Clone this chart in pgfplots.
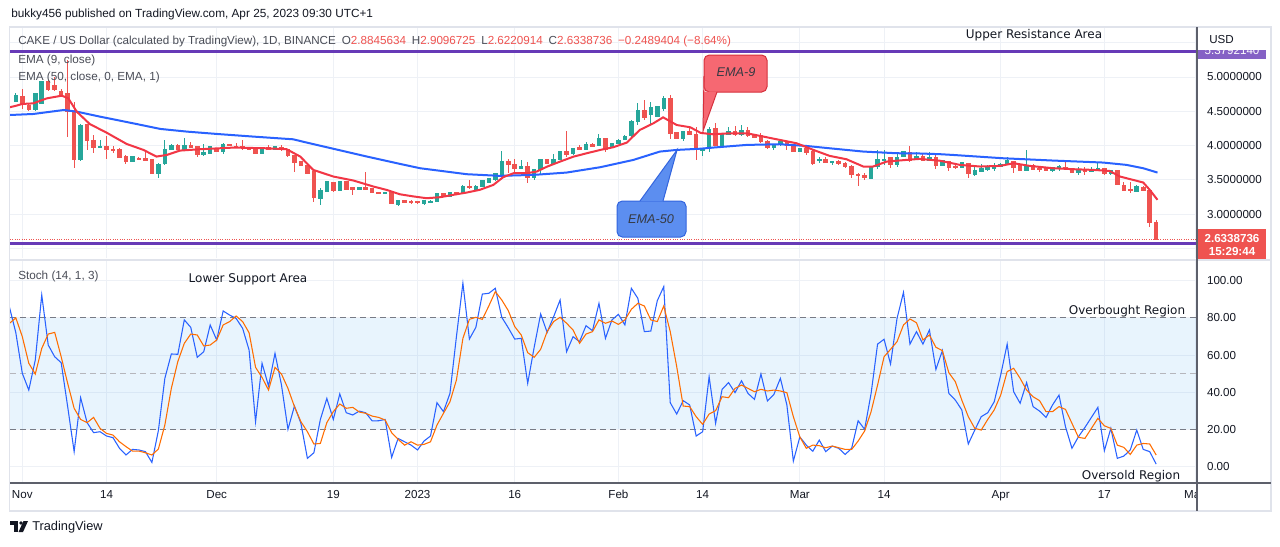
\documentclass[border=0pt]{standalone}
\usepackage{fontspec}
\setmainfont{Liberation Sans}
\newfontfamily\dejavu{DejaVu Sans}
\usepackage{pgfplots}
\usepackage{pgfplotstable}
\pgfplotsset{compat=1.18}

\definecolor{upc}{HTML}{26A69A}
\definecolor{dnc}{HTML}{EF5350}
\definecolor{emared}{HTML}{F23645}
\definecolor{emablue}{HTML}{2962FF}
\definecolor{kline}{HTML}{2962FF}
\definecolor{dline}{HTML}{FF6D00}
\definecolor{gridc}{HTML}{EEF1F6}
\definecolor{framec}{HTML}{E0E3EB}
\definecolor{axc}{HTML}{5D606B}
\definecolor{txt}{HTML}{131722}
\definecolor{lbl}{HTML}{4A4D57}
\definecolor{purp}{HTML}{673AB7}
\definecolor{band}{HTML}{2196F3}
\definecolor{dashc}{HTML}{787B86}
\definecolor{nfill}{RGB}{246,104,114}
\definecolor{nline}{RGB}{214,48,60}
\definecolor{ffill}{RGB}{92,142,240}
\definecolor{fline}{RGB}{50,100,222}

% candles: day index (0 = 1 Nov 2022), open, high, low, close
\pgfplotstableread{
d o h l c
-1 4.640 4.76 4.63 4.738
2 4.519 4.77 4.51 4.762
3 4.616 4.94 4.61 4.932
9 3.791 4.31 3.78 4.301
12 3.966 4.083 3.96 3.995
17 3.767 3.85 3.76 3.840
21 3.597 3.74 3.534 3.733
22 3.733 4.083 3.72 3.947
23 3.937 4.02 3.93 4.010
25 3.937 4.107 3.93 4.010
28 3.864 4.024 3.850 3.898
29 3.888 4.00 3.88 3.986
31 3.913 4.044 3.879 4.024
37 3.888 3.98 3.88 3.976
39 3.947 3.99 3.94 3.986
46 3.219 3.379 3.127 3.355
47 3.330 3.48 3.32 3.476
49 3.345 3.48 3.34 3.476
52 3.364 3.39 3.36 3.389
56 3.296 3.33 3.29 3.316
58 3.132 3.21 3.12 3.209
62 3.151 3.20 3.127 3.199
63 3.170 3.20 3.165 3.195
64 3.185 3.31 3.18 3.306
66 3.257 3.32 3.25 3.316
68 3.306 3.42 3.30 3.413
70 3.364 3.42 3.36 3.413
71 3.403 3.50 3.40 3.490
72 3.461 3.53 3.45 3.524
73 3.500 3.60 3.49 3.597
74 3.573 3.927 3.56 3.767
77 3.670 3.791 3.66 3.694
79 3.539 3.66 3.500 3.656
80 3.646 3.81 3.573 3.801
82 3.743 3.879 3.74 3.801
83 3.801 3.92 3.79 3.913
85 3.879 3.97 3.87 3.961
87 3.937 4.059 3.93 4.024
89 3.995 4.170 3.99 4.107
91 3.976 4.04 3.97 4.034
92 4.024 4.09 4.02 4.083
93 4.083 4.15 4.08 4.141
94 4.141 4.37 4.13 4.359
95 4.349 4.616 4.301 4.519
97 4.446 4.640 4.301 4.558
98 4.422 4.58 4.41 4.568
99 4.543 4.723 4.509 4.689
102 4.107 4.21 4.073 4.204
105 3.927 3.97 3.85 3.961
106 3.961 4.277 3.913 4.238
108 3.986 4.19 3.98 4.180
109 4.155 4.267 4.15 4.214
111 4.165 4.301 4.141 4.228
116 3.971 4.03 3.937 4.020
117 4.010 4.07 4.00 4.059
120 3.913 3.97 3.90 3.961
123 3.782 3.840 3.743 3.801
125 3.758 3.77 3.719 3.767
131 3.515 3.70 3.51 3.694
132 3.694 3.937 3.656 3.801
133 3.792 3.937 3.719 3.801
135 3.719 3.913 3.694 3.830
136 3.840 3.92 3.83 3.913
138 3.801 3.913 3.79 3.840
140 3.782 3.904 3.77 3.831
142 3.704 3.79 3.70 3.782
145 3.680 3.76 3.67 3.753
147 3.573 3.695 3.559 3.636
148 3.622 3.733 3.61 3.670
149 3.646 3.719 3.636 3.695
150 3.670 3.743 3.636 3.704
151 3.695 3.74 3.69 3.733
152 3.728 3.831 3.72 3.782
155 3.636 3.937 3.63 3.719
159 3.631 3.69 3.622 3.680
160 3.661 3.71 3.63 3.704
163 3.607 3.695 3.573 3.636
165 3.617 3.685 3.61 3.656
166 3.636 3.743 3.63 3.670
168 3.583 3.65 3.57 3.636
172 3.331 3.428 3.32 3.404
}\upcandles

\pgfplotstableread{
d o h l c
0 4.723 4.820 4.529 4.592
1 4.592 4.60 4.51 4.519
4 4.932 4.95 4.80 4.810
5 4.883 5.00 4.80 4.810
6 4.786 4.83 4.71 4.738
7 4.762 5.25 4.13 4.495
8 4.495 4.64 3.67 3.791
10 4.315 4.32 3.937 4.073
11 4.083 4.155 3.888 3.976
13 3.995 4.14 3.80 3.937
14 3.947 3.995 3.888 3.927
15 3.947 3.96 3.82 3.825
16 3.840 3.864 3.733 3.767
18 3.816 3.83 3.80 3.806
19 3.816 3.913 3.77 3.777
20 3.801 3.81 3.59 3.597
24 4.010 4.02 3.93 3.937
26 4.010 4.059 3.961 3.976
27 3.995 4.00 3.840 3.864
30 3.961 3.97 3.90 3.913
32 4.024 4.03 3.99 3.995
33 3.995 4.034 3.961 3.976
34 3.986 4.083 3.937 3.966
35 3.976 3.98 3.94 3.947
36 3.961 3.97 3.88 3.888
38 3.976 4.010 3.937 3.947
40 3.976 4.010 3.927 3.937
41 3.947 3.95 3.84 3.850
42 3.864 3.87 3.622 3.753
43 3.767 3.77 3.70 3.704
44 3.719 3.72 3.59 3.597
45 3.622 3.63 3.185 3.233
48 3.461 3.47 3.33 3.340
50 3.476 3.48 3.35 3.355
51 3.389 3.403 3.282 3.355
53 3.389 3.622 3.35 3.355
54 3.379 3.38 3.31 3.316
55 3.325 3.33 3.29 3.296
57 3.316 3.32 3.15 3.151
59 3.209 3.21 3.16 3.170
60 3.190 3.20 3.15 3.161
61 3.185 3.19 3.155 3.161
65 3.306 3.31 3.25 3.257
67 3.316 3.32 3.29 3.296
69 3.413 3.50 3.37 3.379
75 3.767 3.801 3.597 3.719
76 3.733 3.801 3.622 3.670
78 3.704 3.767 3.452 3.539
81 3.801 3.81 3.74 3.743
84 3.923 4.214 3.840 3.864
86 3.976 4.010 3.93 3.937
88 4.024 4.044 3.98 3.986
90 4.107 4.11 3.913 3.937
96 4.519 4.664 4.374 4.412
100 4.689 4.738 4.097 4.170
101 4.189 4.20 4.10 4.107
103 4.204 4.287 4.15 4.155
104 4.170 4.277 3.791 3.947
107 4.253 4.335 3.99 3.995
110 4.204 4.287 4.141 4.155
112 4.228 4.277 4.13 4.141
113 4.165 4.17 4.107 4.122
114 4.155 4.180 4.034 4.059
115 4.068 4.08 3.947 3.971
118 4.059 4.07 3.937 3.995
119 4.010 4.02 3.90 3.913
121 3.961 3.986 3.864 3.889
122 3.923 3.93 3.719 3.743
124 3.801 3.840 3.75 3.753
126 3.767 3.792 3.719 3.733
127 3.743 3.767 3.670 3.694
128 3.704 3.71 3.525 3.573
129 3.588 3.598 3.413 3.559
130 3.573 3.598 3.500 3.539
134 3.830 3.84 3.670 3.719
137 3.898 3.995 3.767 3.782
139 3.850 3.889 3.77 3.782
141 3.831 3.879 3.656 3.704
143 3.767 3.77 3.636 3.680
144 3.695 3.733 3.656 3.680
146 3.743 3.75 3.534 3.583
153 3.777 3.78 3.607 3.680
154 3.719 3.73 3.63 3.636
156 3.719 3.73 3.64 3.646
157 3.670 3.695 3.622 3.646
158 3.685 3.69 3.63 3.636
161 3.685 3.782 3.65 3.656
162 3.670 3.68 3.60 3.607
164 3.646 3.685 3.573 3.622
167 3.670 3.68 3.57 3.583
169 3.636 3.64 3.42 3.428
170 3.428 3.466 3.34 3.346
171 3.370 3.466 3.316 3.346
173 3.394 3.413 3.331 3.346
174 3.346 3.35 2.812 2.880
175 2.8846 2.9097 2.6221 2.6339
}\dncandles

% stochastic %K and %D
\pgfplotstableread{
d k dd
-2 86 77
-1 72 80
0 50.2 69.9
1 41.2 55.6
2 57.3 49.8
3 92.3 63.6
4 65.4 71.3
5 59.1 72.2
6 55.9 59.1
7 32.3 44.8
8 8.1 31.4
9 37.1 25.4
10 23.7 23.7
11 18.3 26.5
12 18.8 20.6
13 16.5 17.9
14 15.6 17.0
15 9.9 13.4
16 6.3 10.8
17 9.3 8.4
18 9.0 8.4
19 8.1 7.5
20 2.3 6.3
21 19.4 9.5
22 47.5 22.4
23 60.6 42.1
24 60.4 56.5
25 78.9 66.3
26 74.9 71.3
27 58.8 70.8
28 61.8 64.9
29 76.2 65.4
30 68.1 68.1
31 83.7 76.2
32 81.5 78.0
33 79.7 81.0
34 74.4 78.0
35 62.7 72.0
36 24.2 53.4
37 55.6 48.0
38 43.4 41.2
39 60.9 53.4
40 43.9 49.8
41 20.1 42.1
42 32.6 32.3
43 23.3 24.2
44 4.5 18.8
45 7.5 12.2
46 25.4 12.5
47 36.7 23.7
48 25.4 29.6
49 39.1 33.7
50 29.0 31.4
51 27.8 31.9
52 29.9 29.4
53 29.0 28.7
54 24.6 27.2
55 24.7 26.5
56 25.4 25.1
57 5.0 18.3
58 15.2 14.7
59 13.4 11.6
60 11.6 13.4
61 9.0 11.6
62 13.8 12.0
63 16.5 13.4
64 34.4 22.4
65 29.6 28.7
66 39.4 34.9
67 69.9 46.6
68 98.6 69.0
69 68.6 79.2
70 74.9 80.3
71 92.8 79.2
72 93.2 86.4
73 95.9 94.1
74 80.3 89.6
75 74.7 83.9
76 68.6 75.3
77 69.0 70.8
78 44.8 61.3
79 64.2 58.8
80 82.1 63.1
81 72.2 72.6
82 80.6 78.0
83 89.6 80.3
84 61.8 77.1
85 69.9 73.5
86 67.2 66.3
87 75.8 71.3
88 73.1 72.6
89 87.8 78.9
90 69.0 77.1
91 78.9 78.3
92 81.9 76.5
93 76.2 78.9
94 95.9 84.6
95 90.5 87.8
96 72.6 86.4
97 72.9 78.9
98 89.2 78.0
99 96.8 86.4
100 34.4 72.6
101 28.3 53.8
102 35.5 32.6
103 33.2 32.3
104 16.5 26.9
105 18.8 22.8
106 48.4 28.3
107 23.3 30.1
108 41.6 37.6
109 45.2 37.1
110 39.8 42.1
111 46.2 43.9
112 39.4 42.1
113 36.2 40.3
114 49.8 41.6
115 35.3 40.7
116 38.9 41.2
117 47.5 40.7
118 33.2 39.8
119 3.0 26.9
120 16.0 16.0
121 11.6 9.9
122 8.3 11.6
123 14.3 11.3
124 8.1 10.2
125 11.1 11.1
126 9.9 10.2
127 6.6 9.3
128 9.9 9.3
129 24.7 13.8
130 20.1 19.2
131 39.4 29.6
132 65.9 43.9
133 68.5 59.1
134 55.2 63.1
135 79.7 67.2
136 93.7 76.2
137 65.9 79.4
138 72.6 77.4
139 65.9 68.1
140 73.5 70.8
141 52.3 64.2
142 62.4 62.4
143 39.4 50.5
144 35.8 45.7
145 30.5 35.8
146 12.2 26.9
147 19.7 20.6
148 26.9 19.7
149 29.0 25.4
150 34.9 30.5
151 49.3 38.5
152 65.9 51.1
153 40.3 52.9
154 34.1 47.5
155 45.2 41.2
156 32.3 37.6
157 29.9 35.5
158 26.5 29.6
159 33.2 29.6
160 38.5 32.3
161 21.5 30.8
162 9.9 23.3
163 16.1 15.8
164 21.1 15.2
165 26.5 20.6
166 31.9 26.0
167 8.6 22.0
168 20.6 20.6
169 4.5 11.6
170 5.7 10.4
171 9.0 6.6
172 19.7 11.6
173 9.3 12.5
174 8.1 12.2
175 1.4 6.3
}\stoch

% candle parts drawn as vertical error bars: #1 colour, #2 width
\pgfplotsset{
    candle/.style 2 args={draw=none, no markers, forget plot,
        error bars/.cd, y dir=both, y explicit, error mark=none,
        error bar style={draw=#1, solid, line width=#2}},
}

\begin{document}
\begin{tikzpicture}
\begin{scope}[x=0.75pt, y=-0.75pt]
\useasboundingbox (0,0) rectangle (1280,546);
\fill[white] (0,0) rectangle (1280,546);
\end{scope}

% ---------------- price pane ----------------
\begin{axis}[
    at={(7.5pt,-193.5pt)}, anchor=south west,
    width=890.25pt, height=173.25pt, scale only axis,
    xmin=-1.9, xmax=181.3, ymin=2.3615, ymax=5.7289,
    axis line style={draw=none},
    xtick={0,13,30,48,61,76,92,105,120,133,151,167,181},
    xticklabels={},
    ytick={3,3.5,4,4.5,5},
    extra y ticks={2.5,5.5}, extra y tick labels={},
    yticklabel pos=right,
    major tick length=0pt,
    grid=major, grid style={gridc, line width=0.75pt},
    yticklabel style={font=\fontsize{8.7}{10}\selectfont, text=txt, anchor=west, xshift=4pt,
        /pgf/number format/.cd, fixed, fixed zerofill, precision=7, assume math mode=true},
]
% resistance / support lines
\addplot[purp, line width=2.2pt, forget plot] coordinates {(-1.9,5.378) (181.3,5.378)};
\addplot[purp, line width=2.2pt, forget plot] coordinates {(-1.9,2.569) (181.3,2.569)};

% wicks
\addplot[candle={upc}{0.75pt}]
    table[x=d, y expr=(\thisrow{h}+\thisrow{l})/2, y error expr=(\thisrow{h}-\thisrow{l})/2] {\upcandles};
\addplot[candle={dnc}{0.75pt}]
    table[x=d, y expr=(\thisrow{h}+\thisrow{l})/2, y error expr=(\thisrow{h}-\thisrow{l})/2] {\dncandles};
% bodies
\addplot[candle={upc}{3.4pt}]
    table[x=d, y expr=(\thisrow{o}+\thisrow{c})/2, y error expr=abs(\thisrow{c}-\thisrow{o})/2+0.004] {\upcandles};
\addplot[candle={dnc}{3.4pt}]
    table[x=d, y expr=(\thisrow{o}+\thisrow{c})/2, y error expr=abs(\thisrow{c}-\thisrow{o})/2+0.004] {\dncandles};

% EMA 50
\addplot[emablue, line width=1.5pt] coordinates {
(-1.9,4.446) (1.7,4.461) (6.4,4.519) (8.4,4.495) (12,4.422) (17.1,4.325) (21.3,4.243)
(25.4,4.204) (30,4.170) (35.7,4.131) (41.8,4.092) (43.9,4.044) (47,3.976) (53.2,3.840)
(58.3,3.733) (61.4,3.670) (63.4,3.646) (68.6,3.583) (73.7,3.559) (78.9,3.573) (84,3.607)
(89.2,3.685) (94.3,3.791) (98.4,3.913) (101,3.937) (104.7,3.955) (106.6,3.971) (111.8,4.010)
(116.9,4.020) (121,3.995) (124.6,3.961) (129.8,3.913) (134.9,3.889) (138.5,3.885) (141.6,3.875)
(143.6,3.864) (151.3,3.816) (159.1,3.782) (166.8,3.753) (170.4,3.719) (173,3.670) (175.2,3.607)
};
% EMA 9
\addplot[emared, line width=1.5pt] coordinates {
(-1.9,4.56) (-1,4.58) (0,4.607) (1.7,4.616) (3.8,4.689) (6.1,4.728) (7.1,4.689) (8.4,4.495)
(10.4,4.315) (13,4.189) (16.1,4.024) (18.7,3.937) (20.7,3.840) (22.3,3.864) (24.3,3.927)
(27.4,3.947) (32.6,3.971) (37.7,3.961) (40.8,3.947) (42.9,3.840) (44.9,3.646) (48,3.549)
(51.1,3.491) (54.2,3.403) (56.2,3.355) (58.3,3.29) (60.3,3.26) (62.4,3.233) (64.5,3.248)
(66.5,3.282) (68.6,3.316) (70.6,3.355) (72.7,3.427) (74.2,3.539) (75.8,3.597) (77.8,3.597)
(79.4,3.622) (81,3.694) (83,3.767) (85.1,3.840) (87.1,3.888) (89.2,3.937) (91.2,3.976)
(93.3,4.044) (95.3,4.228) (97.4,4.325) (98.9,4.412) (101,4.30) (103.1,4.267) (104.7,4.185)
(106.6,4.165) (109.2,4.180) (111.8,4.180) (114.4,4.131) (116.9,4.083) (119.5,4.034)
(122.1,3.937) (124.6,3.850) (127.2,3.801) (129.8,3.695) (131.3,3.695) (133.4,3.767)
(136.5,3.792) (138.5,3.806) (141.6,3.780) (144.7,3.719) (147.8,3.695) (150.9,3.704)
(153,3.743) (155.5,3.704) (159.1,3.670) (162.2,3.656) (165.2,3.646) (167.8,3.631)
(169.4,3.549) (171.4,3.501) (173,3.462) (174,3.355) (175.2,3.210)
};
% last price line
\addplot[dnc, densely dotted, line width=0.75pt] coordinates {(-1.9,2.6339) (181.3,2.6339)};
\end{axis}

% ---------------- stochastic pane ----------------
\begin{axis}[
    at={(7.5pt,-362.25pt)}, anchor=south west,
    width=890.25pt, height=167.25pt, scale only axis,
    xmin=-1.9, xmax=181.3, ymin=-8.76, ymax=111.1,
    axis line style={draw=none},
    xtick={0,13,30,48,61,76,92,105,120,133,151,167,181},
    xticklabels={Nov,14,Dec,19,2023,16,Feb,14,Mar,14,Apr,17,May},
    ytick={0,20,40,60,80,100},
    yticklabel pos=right,
    major tick length=0pt,
    grid=major, grid style={gridc, line width=0.75pt},
    xticklabel style={font=\fontsize{8.7}{10}\selectfont, text=txt, yshift=-2pt},
    yticklabel style={font=\fontsize{8.7}{10}\selectfont, text=txt, anchor=west, xshift=4pt,
        /pgf/number format/.cd, fixed, fixed zerofill, precision=2, assume math mode=true},
]
\addplot[draw=none, fill=band, fill opacity=0.1, forget plot] coordinates {(-1.9,20) (181.3,20) (181.3,80) (-1.9,80)} -- cycle;
\addplot[dashc, line width=0.75pt, dash pattern=on 4.5pt off 3pt, forget plot] coordinates {(-1.9,80) (181.3,80)};
\addplot[dashc!55, line width=0.75pt, dash pattern=on 4.5pt off 3pt, forget plot] coordinates {(-1.9,50) (181.3,50)};
\addplot[dashc, line width=0.75pt, dash pattern=on 4.5pt off 3pt, forget plot] coordinates {(-1.9,20) (181.3,20)};
\addplot[kline, line width=0.8pt] table[x=d, y=k] {\stoch};
\addplot[dline, line width=0.8pt] table[x=d, y=dd] {\stoch};
\end{axis}

\begin{scope}[x=0.75pt, y=-0.75pt]
% ---------------- frame ----------------
\fill[white] (1197.5,484) rectangle (1270.5,510.5);
\draw[framec, line width=0.9pt] (9.5,27) rectangle (1271,511);
\draw[framec, line width=1.5pt] (10,259.5) -- (1271,259.5);
\draw[axc, line width=0.8pt] (1197,27) -- (1197,511);
\draw[axc, line width=0.8pt] (10,483) -- (1271,483);

% ---------------- price scale labels ----------------
\node[anchor=west, text=txt, font=\fontsize{8.7}{10}\selectfont, inner sep=0pt] at (1209,40) {USD};
\begin{scope}
\clip (1198,50) rectangle (1268,59);
\fill[purp!80] (1198,44) rectangle (1266,59);
\node[text=white, font=\fontsize{8.7}{10}\selectfont, inner sep=0pt] at (1232,51) {5.3792140};
\end{scope}
\fill[dnc] (1198,229) rectangle (1266,259);
\node[text=white, font=\bfseries\fontsize{8.7}{10}\selectfont] at (1232,238.5) {2.6338736};
\node[text=white, font=\bfseries\fontsize{8.7}{10}\selectfont] at (1232,252) {15:29:44};

% ---------------- header / legend ----------------
\node[anchor=west, text=txt, font=\fontsize{8.85}{10}\selectfont, inner sep=0pt] at (11,14)
    {bukky456 published on TradingView.com, Apr 25, 2023 09:30 UTC+1};
\node[anchor=west, text=lbl, font=\fontsize{8.75}{10}\selectfont, inner sep=0pt] at (18,41)
    {CAKE / US Dollar (calculated by TradingView), 1D, BINANCE\enspace
     O\textcolor{dnc}{2.8845634}\enspace H\textcolor{dnc}{2.9096725}\enspace
     L\textcolor{dnc}{2.6220914}\enspace C\textcolor{dnc}{2.6338736}\enspace
     \textcolor{dnc}{−0.2489404 (−8.64\%)}};
\node[anchor=west, text=lbl, font=\fontsize{8.8}{10}\selectfont, inner sep=0pt] at (18,60) {EMA (9, close)};
\node[anchor=west, text=lbl, font=\fontsize{8.8}{10}\selectfont, inner sep=0pt] at (18,77) {EMA (50, close, 0, EMA, 1)};
\node[anchor=west, text=lbl, font=\fontsize{8.8}{10}\selectfont, inner sep=0pt] at (18,276) {Stoch (14, 1, 3)};

% ---------------- annotations ----------------
\node[text=txt, font=\dejavu\fontsize{9}{10}\selectfont] at (1034,35) {Upper Resistance Area};
\node[text=txt, font=\dejavu\fontsize{9}{10}\selectfont] at (248,279) {Lower Support Area};
\node[text=txt, font=\dejavu\fontsize{9}{10}\selectfont] at (1127,311) {Overbought Region};
\node[text=txt, font=\dejavu\fontsize{9}{10}\selectfont] at (1131,476) {Oversold Region};

% EMA-9 callout
\filldraw[fill=nfill, draw=nline, line width=0.75pt, rounded corners=4pt] (704,55) rectangle (767,92);
\fill[nfill] (704.4,76) -- (703,131) -- (717,91.6) -- (704.4,91.6) -- cycle;
\draw[nline, line width=0.75pt] (704,76) -- (703,131) -- (717,92);
\node[text=txt!85, font=\itshape\fontsize{9.5}{10}\selectfont] at (736,72) {EMA-9};

% EMA-50 callout
\filldraw[fill=ffill, draw=fline, line width=0.75pt, rounded corners=4pt] (617,201) rectangle (686,237);
\fill[ffill] (640,201.4) -- (677,150) -- (663,201.4) -- cycle;
\draw[fline, line width=0.75pt] (640,201) -- (677,150) -- (663,201);
\node[text=txt!85, font=\itshape\fontsize{9.5}{10}\selectfont] at (651,219) {EMA-50};

% ---------------- footer logo ----------------
\fill[txt] (10,521) rectangle (18,524.5);
\fill[txt] (14,521) rectangle (17.5,532);
\fill[txt] (21,523) circle (1.8);
\fill[txt] (23.5,521) -- (28,521) -- (23,532) -- (18.5,532) -- cycle;
\node[anchor=west, text=txt, font=\fontsize{9.6}{10}\selectfont, inner sep=0pt] at (32,527.5) {TradingView};
\end{scope}
\end{tikzpicture}
\end{document}
